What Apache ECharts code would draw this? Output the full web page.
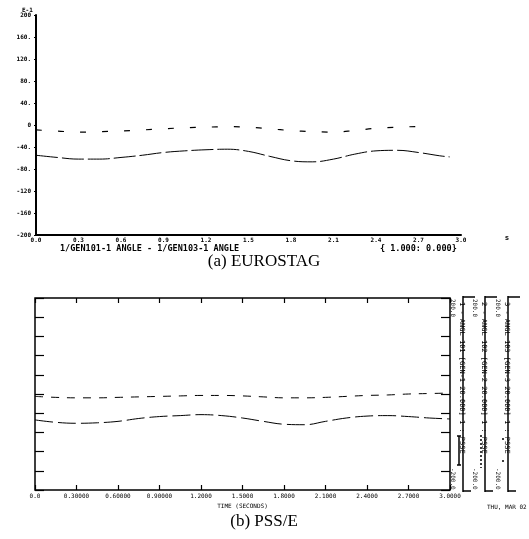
<!DOCTYPE html>
<html><head><meta charset="utf-8">
<script src="https://cdn.jsdelivr.net/npm/echarts@6/dist/echarts.min.js"></script>
<style>html,body{margin:0;padding:0;background:#fff}#c{width:529px;height:539px}</style>
</head><body><div id="c"></div>
<script>
// ---- data ----
const timeA = [0, 0.15, 0.3, 0.45, 0.6, 0.75, 0.9, 1.05, 1.2, 1.35, 1.5, 1.65, 1.8, 1.95, 2.1, 2.25, 2.4, 2.55, 2.7, 2.85, 2.92];
const eurostagLower = [-55, -59, -62, -62, -59, -55, -50, -47, -45, -44, -48, -57, -65, -67, -62, -53, -47, -46, -50, -56, -58];
const timeA2 = [0, 0.15, 0.3, 0.45, 0.6, 0.75, 0.9, 1.05, 1.2, 1.35, 1.5, 1.65, 1.8, 1.95, 2.1, 2.25, 2.4, 2.55, 2.7, 2.78];
const eurostagUpper = [-9, -11, -13, -12, -11, -9, -7, -5, -4, -3, -4, -7, -10, -12, -13, -10, -6, -4, -3, -4];
const timeB = [0, 0.15, 0.3, 0.45, 0.6, 0.75, 0.9, 1.05, 1.2, 1.35, 1.5, 1.65, 1.8, 1.95, 2.1, 2.25, 2.4, 2.55, 2.7, 2.85, 3.0];
const psseLower = [-54, -59, -61, -60, -57, -51, -47, -45, -43, -45, -50, -57, -63, -64, -57, -50, -46, -45, -47, -50, -52];
const psseUpper = [-5, -7, -8, -8, -7, -6, -5, -4, -3, -3, -4, -6, -8, -8, -7, -5, -3, -2, 0, 1, 2];
const yTickLabelsA = ['-200', '-160', '-120', '-80.', '-40.', '0', '40.', '80.', '120.', '160.', '200'];
const xTickLabelsA = ['0.0', '0.3', '0.6', '0.9', '1.2', '1.5', '1.8', '2.1', '2.4', '2.7', '3.0'];
const xTickLabelsB = ['0.0', '0.30000', '0.60000', '0.90000', '1.2000', '1.5000', '1.8000', '2.1000', '2.4000', '2.7000', '3.0000'];
const legendTextA1 = '1/GEN101-1 ANGLE - 1/GEN103-1 ANGLE';
const legendTextA2 = '{ 1.000: 0.000}';
const captionA = '(a) EUROSTAG';
const captionB = '(b) PSS/E';
const channelTexts = [
  '1 - ANGL 101 [GEN-1 20.000] 1 : PSSE',
  '2 - ANGL 102 [GEN-2 20.000] 1 : PSSE',
  '3 - ANGL 103 [GEN-3 20.000] 1 : PSSE'
];
const channelMax = '200.0';
const channelMin = '-200.0';
const dateText = 'THU, MAR 02';

const pairs = (xs, ys) => xs.map((x, i) => [x, ys[i]]);

const tinyBold = {fontSize: 6, fontWeight: 'bold', color: '#000', fontFamily: 'DejaVu Sans Mono'};

// legend strips graphics (right of plot b)
const stripX = [455, 477, 500];
const graphics = [];
stripX.forEach((x0, i) => {
  graphics.push({type: 'line', shape: {x1: x0 + 8, y1: 296, x2: x0 + 8, y2: 492}, style: {stroke: '#000', lineWidth: 1.5}});
  graphics.push({type: 'line', shape: {x1: x0 + 8, y1: 297, x2: x0 + 20, y2: 297}, style: {stroke: '#000', lineWidth: 1.5}});
  graphics.push({type: 'line', shape: {x1: x0 + 8, y1: 491, x2: x0 + 16, y2: 491}, style: {stroke: '#000', lineWidth: 1.5}});
  graphics.push({type: 'text', x: x0 + 1, y: 299, rotation: -Math.PI / 2, style: {text: channelMax, fontSize: 6, fontFamily: 'DejaVu Sans Mono', fill: '#000'}});
  graphics.push({type: 'text', x: x0 + 1, y: 468, rotation: -Math.PI / 2, style: {text: channelMin, fontSize: 6, fontFamily: 'DejaVu Sans Mono', fill: '#000'}});
  graphics.push({type: 'text', x: x0 + 10, y: 302, rotation: -Math.PI / 2, style: {text: channelTexts[i], fontSize: 7, fontFamily: 'DejaVu Sans Mono', fill: '#000'}});
});
// legend samples
graphics.push({type: 'line', shape: {x1: 459, y1: 436, x2: 459, y2: 465}, style: {stroke: '#000', lineWidth: 1.5}});
graphics.push({type: 'line', shape: {x1: 457, y1: 436, x2: 461, y2: 436}, style: {stroke: '#000', lineWidth: 1.5}});
graphics.push({type: 'line', shape: {x1: 457, y1: 465, x2: 461, y2: 465}, style: {stroke: '#000', lineWidth: 1.5}});
graphics.push({type: 'line', shape: {x1: 481, y1: 435, x2: 481, y2: 468}, style: {stroke: '#000', lineWidth: 1.5, lineDash: [2, 2]}});
graphics.push({type: 'line', shape: {x1: 503, y1: 438, x2: 503, y2: 462}, style: {stroke: '#000', lineWidth: 1.5, lineDash: [2, 20]}});
graphics.push({type: 'text', x: 487, y: 504, style: {text: dateText, fontSize: 6, fontFamily: 'DejaVu Sans Mono', fill: '#000'}});
// exponent label on top of axis (a)
graphics.push({type: 'text', x: 22, y: 7, style: {text: 'E-1', fontSize: 6, fontWeight: 'bold', fontFamily: 'DejaVu Sans Mono', fill: '#000'}});
// legend text of (a)
graphics.push({type: 'text', x: 60, y: 244, style: {text: legendTextA1, fontSize: 8.5, fontWeight: 'bold', fontFamily: 'DejaVu Sans Mono', fill: '#000'}});
graphics.push({type: 'text', x: 380, y: 244, style: {text: legendTextA2, fontSize: 8.5, fontWeight: 'bold', fontFamily: 'DejaVu Sans Mono', fill: '#000'}});
// captions
graphics.push({type: 'text', x: 264, y: 262, style: {text: captionA, fontSize: 17, fontFamily: 'Liberation Serif', fill: '#000', align: 'center', verticalAlign: 'middle'}});
graphics.push({type: 'text', x: 264, y: 522, style: {text: captionB, fontSize: 17, fontFamily: 'Liberation Serif', fill: '#000', align: 'center', verticalAlign: 'middle'}});

const option = {
  animation: false,
  backgroundColor: '#fff',
  grid: [
    {left: 36, top: 15, width: 425, height: 220},
    {left: 35, top: 298, width: 415, height: 192, show: true, borderColor: '#000', borderWidth: 1.5}
  ],
  xAxis: [
    {gridIndex: 0, type: 'value', min: 0, max: 3, interval: 0.3,
     axisLine: {onZero: false, lineStyle: {color: '#000', width: 2}}, axisTick: {show: false}, splitLine: {show: false},
     axisLabel: Object.assign({margin: 2, formatter: v => xTickLabelsA[Math.round(v / 0.3)]}, tinyBold),
     name: 's', nameLocation: 'end', nameGap: 44, nameTextStyle: {fontSize: 7, fontWeight: 'bold', color: '#000', verticalAlign: 'top'}},
    {gridIndex: 1, type: 'value', min: 0, max: 3, interval: 0.3,
     axisLine: {show: false, onZero: false}, axisTick: {inside: true, length: 5, lineStyle: {color: '#000', width: 1.2}}, splitLine: {show: false},
     axisLabel: {fontSize: 6, color: '#000', margin: 3, fontFamily: 'DejaVu Sans Mono', formatter: v => xTickLabelsB[Math.round(v / 0.3)]},
     name: 'TIME (SECONDS)', nameLocation: 'middle', nameGap: 13, nameTextStyle: {fontSize: 6, color: '#000', fontFamily: 'DejaVu Sans Mono'}},
    {gridIndex: 1, type: 'value', position: 'top', min: 0, max: 3, interval: 0.3,
     axisLine: {show: false, onZero: false}, axisTick: {inside: true, length: 5, lineStyle: {color: '#000', width: 1.2}}, splitLine: {show: false},
     axisLabel: {show: false}}
  ],
  yAxis: [
    {gridIndex: 0, type: 'value', min: -200, max: 200, interval: 40,
     axisLine: {show: true, onZero: false, lineStyle: {color: '#000', width: 2}}, axisTick: {show: true, length: 2, lineStyle: {color: '#000'}}, splitLine: {show: false},
     axisLabel: Object.assign({margin: 5, formatter: v => yTickLabelsA[Math.round((v + 200) / 40)]}, tinyBold)},
    {gridIndex: 1, type: 'value', min: -200, max: 200, interval: 40,
     axisLine: {show: false, onZero: false}, axisTick: {inside: true, length: 9, lineStyle: {color: '#000', width: 1.2}}, splitLine: {show: false},
     axisLabel: {show: false}},
    {gridIndex: 1, type: 'value', position: 'right', min: -200, max: 200, interval: 40,
     axisLine: {show: false, onZero: false}, axisTick: {inside: true, length: 9, lineStyle: {color: '#000', width: 1.2}}, splitLine: {show: false},
     axisLabel: {show: false}}
  ],
  series: [
    {type: 'line', xAxisIndex: 0, yAxisIndex: 0, data: pairs(timeA, eurostagLower), smooth: 0.4, symbol: 'none',
     lineStyle: {color: '#000', width: 1, type: [22, 4]}},
    {type: 'line', xAxisIndex: 0, yAxisIndex: 0, data: pairs(timeA2, eurostagUpper), smooth: 0.4, symbol: 'none',
     lineStyle: {color: '#000', width: 1.2, type: [6, 16]}},
    {type: 'line', xAxisIndex: 1, yAxisIndex: 1, data: pairs(timeB, psseLower), smooth: 0.4, symbol: 'none',
     lineStyle: {color: '#000', width: 1, type: [18, 5]}},
    {type: 'line', xAxisIndex: 1, yAxisIndex: 1, data: pairs(timeB, psseUpper), smooth: 0.4, symbol: 'none',
     lineStyle: {color: '#000', width: 1, type: [8, 8]}}
  ],
  graphic: graphics
};
echarts.init(document.getElementById('c')).setOption(option);
</script></body></html>
